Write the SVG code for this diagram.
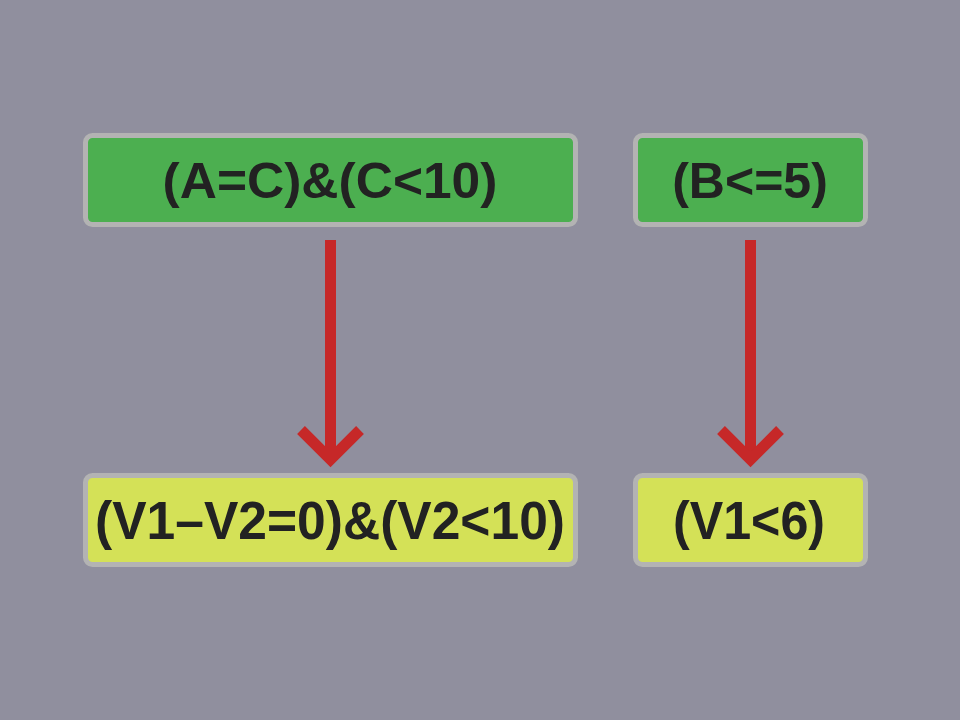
<svg xmlns="http://www.w3.org/2000/svg" width="960" height="720" viewBox="0 0 960 720">
<defs>
<style>
.box{stroke:#b3b3b3;stroke-width:5}
.g{fill:#4caf50}
.y{fill:#d4e157}
.t{font-family:"Liberation Sans",Arial,sans-serif;font-weight:bold;font-size:50px;fill:#222222;text-anchor:middle}
.tb{font-size:54px}
.arr{stroke:#c62828;stroke-width:11;fill:none}
</style>
</defs>
<rect width="960" height="720" fill="#908f9e"/>
<g id="connectors">
<g id="c1"><line class="arr" x1="330.5" y1="240" x2="330.5" y2="460"/><polyline class="arr" points="301,430 330.5,459.5 360,430"/></g>
<g id="c2"><line class="arr" x1="750.5" y1="240" x2="750.5" y2="460"/><polyline class="arr" points="721,430 750.5,459.5 780,430"/></g>
</g>
<g id="n1"><rect class="box g" x="85.5" y="135.5" width="490" height="89" rx="7"/><text class="t" transform="translate(330,198) scale(1.03,1)">(A=C)&amp;(C&lt;10)</text></g>
<g id="n2"><rect class="box g" x="635.5" y="135.5" width="230" height="89" rx="7"/><text class="t" transform="translate(750,198) scale(1.0,1)">(B&lt;=5)</text></g>
<g id="n3"><rect class="box y" x="85.5" y="475.5" width="490" height="89" rx="7"/><text class="t tb" transform="translate(330,538.5) scale(0.955,1)">(V1–V2=0)&amp;(V2&lt;10)</text></g>
<g id="n4"><rect class="box y" x="635.5" y="475.5" width="230" height="89" rx="7"/><text class="t tb" transform="translate(749,538.5) scale(0.93,1)">(V1&lt;6)</text></g>
</svg>
